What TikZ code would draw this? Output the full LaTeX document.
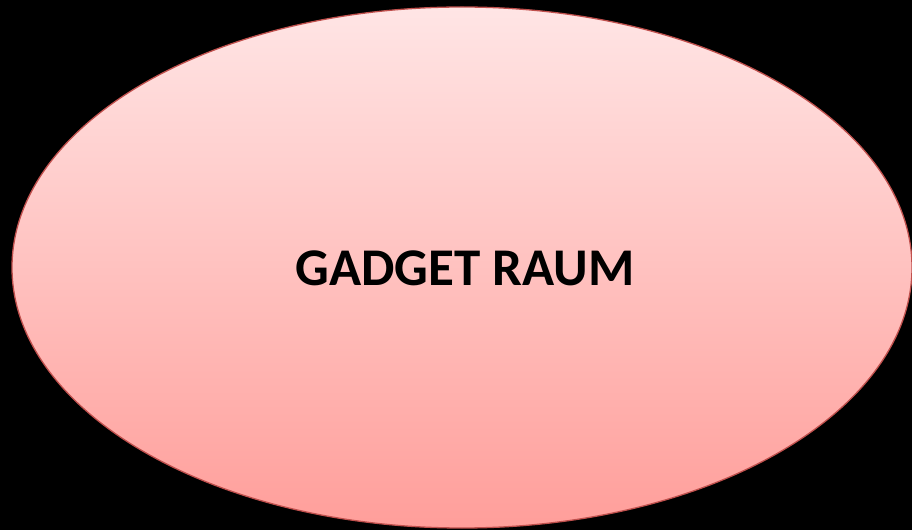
\documentclass[tikz,border=0pt]{standalone}
\usepackage{fontspec}
\setmainfont{Carlito}
\usetikzlibrary{shapes.geometric}
\definecolor{topc}{HTML}{FFE5E5}
\definecolor{botc}{HTML}{FF9E9A}
\definecolor{edgec}{HTML}{C0504D}
\tikzset{room/.style={ellipse, draw=edgec, line width=1.3pt, top color=topc, bottom color=botc, minimum width=900pt, minimum height=521pt, inner sep=0pt},
  label/.style={font=\bfseries\fontsize{53}{55}\selectfont, text=black}}
\begin{document}
\begin{tikzpicture}[x=1pt,y=1pt]
\fill[black] (0,0) rectangle (912,530);
\useasboundingbox (0,0) rectangle (912,530);
\node[room] (raum) at (462,262.5) {};
\node[label] (t) at (465,262) {GADGET RAUM};
\end{tikzpicture}
\end{document}
